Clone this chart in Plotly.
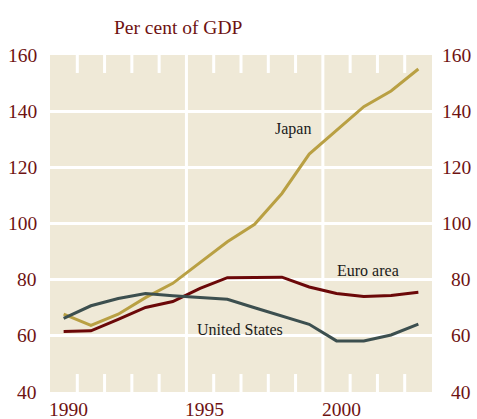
import plotly.graph_objects as go

years = list(range(1990, 2004))
japan = [67.7, 63.7, 67.7, 73.6, 78.7, 86.2, 93.5, 99.7, 110.7, 124.7, 133.1, 141.6, 147.2, 155.0]
euro_area = [61.5, 61.8, 65.9, 70.1, 72.2, 76.9, 80.7, 80.7, 80.9, 77.4, 75.1, 74.0, 74.4, 75.5]
united_states = [66.2, 70.7, 73.3, 75.1, 74.3, 73.7, 73.0, 70.0, 67.1, 64.1, 58.2, 58.2, 60.3, 64.2]

y_ticks = [40, 60, 80, 100, 120, 140, 160]
y_grid = [60, 80, 100, 120, 140]
x_label_years = [1990, 1995, 2000]
x_grid_years = [1995, 2000]
x_stub_years = [1991, 1992, 1993, 1994, 1996, 1997, 1998, 1999, 2001, 2002, 2003]

BG = "#efe9d7"
TXT = "#6e1212"
FONT = "Liberation Serif"

xs = [y + 0.5 for y in years]

fig = go.Figure()
series = [
    ("Japan", japan, "#b9a043"),
    ("Euro area", euro_area, "#6b0808"),
    ("United States", united_states, "#3c4f4f"),
]
for name, vals, col in series:
    fig.add_trace(go.Scatter(x=xs, y=vals, mode="lines", name=name,
                             line=dict(color=col, width=3), showlegend=False,
                             hoverinfo="skip"))

shapes = []
for yr in x_grid_years:
    shapes.append(dict(type="line", xref="x", yref="paper", x0=yr, x1=yr, y0=0, y1=1,
                       line=dict(color="white", width=3), layer="below"))
for yr in x_stub_years:
    shapes.append(dict(type="line", xref="x", yref="y", x0=yr, x1=yr,
                       y0=40, y1=46.4, line=dict(color="white", width=3),
                       layer="above"))
    shapes.append(dict(type="line", xref="x", yref="y", x0=yr, x1=yr,
                       y0=153.6, y1=160, line=dict(color="white", width=3),
                       layer="above"))

annotations = []
for v in y_ticks:
    annotations.append(dict(x=-0.029, xref="paper", y=v, yref="y", text=str(v),
                            showarrow=False, xanchor="right", yanchor="middle",
                            font=dict(family=FONT, size=19.5, color=TXT)))
    annotations.append(dict(x=1.107, xref="paper", y=v, yref="y", text=str(v),
                            showarrow=False, xanchor="right", yanchor="middle",
                            font=dict(family=FONT, size=19.5, color=TXT)))
for yr in x_label_years:
    annotations.append(dict(x=yr, xref="x", y=-0.051, yref="paper", text=str(yr),
                            showarrow=False, xanchor="left", yanchor="middle", xshift=-3,
                            font=dict(family=FONT, size=19.5, color=TXT)))

label_pos = [("Japan", 1998.92, 133.6), ("Euro area", 2001.65, 83.1),
             ("United States", 1996.96, 62.4)]
for t, x, y in label_pos:
    annotations.append(dict(x=x, y=y, xref="x", yref="y", text=t, showarrow=False,
                            xanchor="center", yanchor="middle",
                            font=dict(family=FONT, size=16, color="#1a1a1a")))

annotations.append(dict(x=(112 - 50) / 382, xref="paper", y=1 + (55 - 27) / 337,
                        yref="paper", text="Per cent of GDP", showarrow=False,
                        xanchor="left", yanchor="middle",
                        font=dict(family=FONT, size=19.5, color=TXT)))

fig.update_layout(
    width=477, height=419,
    margin=dict(l=50, r=45, t=55, b=27),
    paper_bgcolor="white", plot_bgcolor=BG,
    annotations=annotations, shapes=shapes,
    xaxis=dict(range=[1990, 2004], showgrid=False, showticklabels=False, ticks="",
               zeroline=False, showline=False, fixedrange=True),
    yaxis=dict(range=[40, 160], tickmode="array", tickvals=y_grid, ticks="",
               showgrid=True, gridcolor="white", gridwidth=3, showticklabels=False,
               zeroline=False, showline=False, fixedrange=True),
)

fig.write_html("out.html", config={"displayModeBar": False},
               post_script="document.body.style.margin='0';document.body.style.overflow='hidden';")
